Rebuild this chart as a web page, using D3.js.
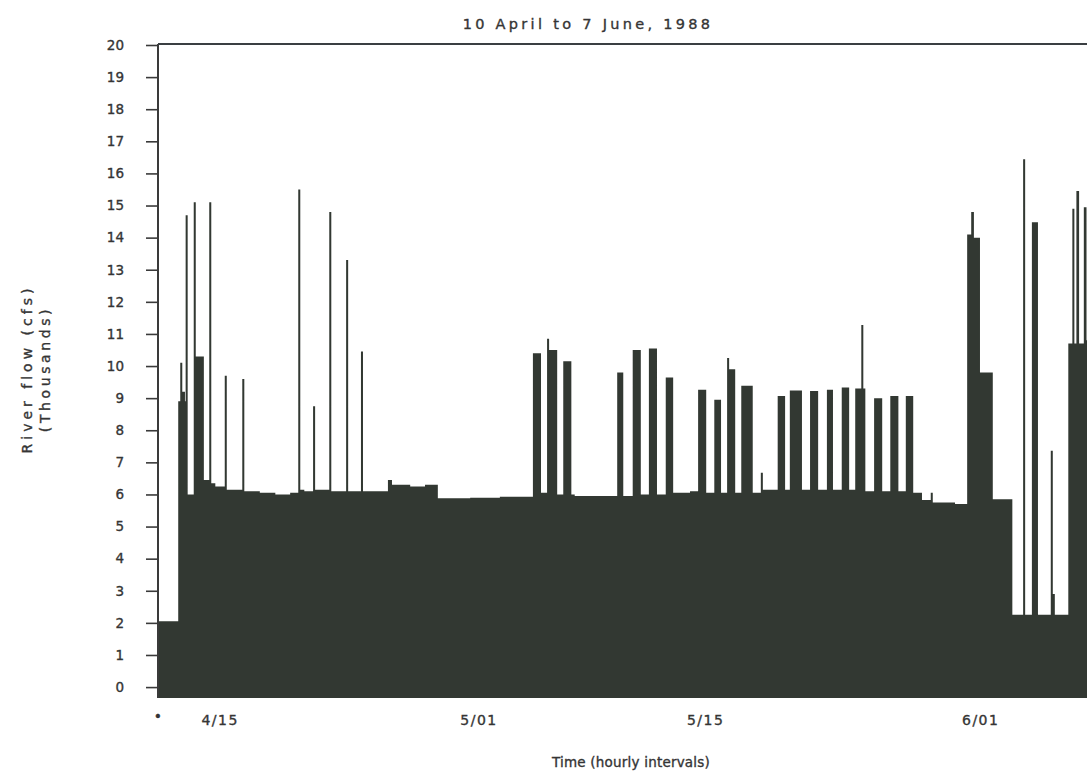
<!DOCTYPE html>
<html>
<head>
<meta charset="utf-8">
<script src="https://cdn.jsdelivr.net/npm/d3@7"></script>
<style>
  html, body { margin: 0; padding: 0; background: #ffffff; }
  svg text { font-family: "DejaVu Sans", "Noto Sans", sans-serif; fill: #353535; stroke: #353535; stroke-width: 0.35px; }
</style>
</head>
<body>
<svg id="chart" width="1087" height="774"></svg>
<script>
// ---- Data (hours since 1988-04-10 00:00; value holds until next hour mark) ----
const hours = [19, 49, 52, 55, 59, 60, 63, 72, 75, 87, 95, 98, 104, 118, 121, 144, 147, 170, 193, 215,
  227, 230, 236, 249, 252, 273, 276, 298, 301, 320, 323, 360, 366, 393, 415, 434, 482, 526,
  575, 587, 596, 599, 611, 620, 632, 637, 700, 709, 723, 735, 747, 759, 772, 783, 808,
  820, 832, 844, 854, 863, 866, 875, 884, 901, 913, 916, 938, 949, 956, 974, 986, 998,
  1011, 1020, 1033, 1044, 1053, 1062, 1065, 1068, 1081, 1093, 1105, 1117, 1128, 1139,
  1152, 1165, 1168, 1201, 1219, 1225, 1229, 1238, 1257, 1286, 1302, 1305, 1315, 1324,
  1343, 1346, 1349, 1369, 1375, 1378, 1381, 1385, 1392, 1396, 1416];
const flow = [2.05, 8.9, 10.1, 9.2, 8.9, 14.7, 6.0, 15.1, 10.3, 6.45, 15.1, 6.35, 6.25, 9.7, 6.15, 9.6, 6.1, 6.05, 6.0, 6.05,
  15.5, 6.15, 6.1, 8.75, 6.15, 14.8, 6.1, 13.3, 6.1, 10.45, 6.1, 6.45, 6.3, 6.25, 6.3, 5.88, 5.9, 5.93,
  10.4, 6.05, 10.85, 10.5, 6.0, 10.15, 6.0, 5.95, 9.8, 5.95, 10.5, 6.0, 10.55, 6.0, 9.64, 6.05, 6.1,
  9.26, 6.05, 8.95, 6.05, 10.25, 9.9, 6.05, 9.39, 6.05, 6.68, 6.15, 9.07, 6.15, 9.24, 6.15, 9.22, 6.15,
  9.26, 6.15, 9.33, 6.15, 9.3, 11.28, 9.3, 6.1, 9.0, 6.1, 9.07, 6.1, 9.07, 6.05,
  5.83, 6.05, 5.75, 5.7, 14.1, 14.8, 14.0, 9.8, 5.85, 2.25, 16.44, 2.25, 14.48, 2.25,
  7.36, 2.9, 2.25, 10.7, 14.9, 10.7, 15.45, 10.7, 14.95, 10.8, 10.8];

const yTickValues = [0,1,2,3,4,5,6,7,8,9,10,11,12,13,14,15,16,17,18,19,20];
const xTickDates = ["1988-04-15", "1988-05-01", "1988-05-15", "1988-06-01"];
const xTickLabels = ["4/15", "5/01", "5/15", "6/01"];
const titleText = "10 April to 7 June, 1988";
const yTitleLines = ["River flow (cfs)", "(Thousands)"];
const xTitleText = "Time (hourly intervals)";

(function draw() {
  const base = Date.UTC(1988, 3, 10, 0);
  const toDate = h => new Date(base + h * 3600e3);

  const pLeft = 158, pRight = 1100, pTop = 45, pBottom = 698;
  const x = d3.scaleUtc()
    .domain([toDate(19), toDate(1416)])
    .range([pLeft, pRight]);
  const y = d3.scaleLinear()
    .domain([-0.34, 20])
    .range([pBottom, pTop]);

  const svg = d3.select("#chart");
  const data = hours.map((h, i) => ({ t: toDate(h), v: flow[i] }));

  const area = d3.area()
    .x(d => x(d.t))
    .y0(pBottom)
    .y1(d => y(d.v))
    .curve(d3.curveStepAfter);

  svg.append("path")
    .datum(data)
    .attr("d", area)
    .attr("fill", "#323832");

  const yAxis = d3.axisLeft(y)
    .tickValues(yTickValues)
    .tickSize(12)
    .tickPadding(22)
    .tickFormat(d3.format("d"));
  const gy = svg.append("g")
    .attr("transform", `translate(${pLeft},0)`)
    .call(yAxis);
  gy.select(".domain").remove();
  gy.selectAll(".tick line").attr("stroke", "#3a3a3a").attr("stroke-width", 1.6);
  gy.selectAll(".tick text")
    .attr("font-size", 13.5)
    .attr("fill", "#353535")
    .style("font-family", "'DejaVu Sans', sans-serif");

  svg.append("line")
    .attr("x1", pLeft).attr("x2", pLeft)
    .attr("y1", y(20) - 1).attr("y2", pBottom)
    .attr("stroke", "#3a3a3a").attr("stroke-width", 2);
  svg.append("line")
    .attr("x1", pLeft).attr("x2", 1087)
    .attr("y1", y(20) - 1).attr("y2", y(20) - 1)
    .attr("stroke", "#3a3f42").attr("stroke-width", 2);

  svg.append("g").selectAll("text.xt")
    .data(xTickDates)
    .join("text")
    .attr("class", "xt")
    .attr("x", d => x(new Date(d + "T00:00:00Z")))
    .attr("dx", -6)
    .attr("y", 725)
    .attr("text-anchor", "middle")
    .attr("font-size", 14)
    .attr("letter-spacing", "1.5px")
    .text((d, i) => xTickLabels[i]);

  svg.append("text")
    .attr("x", pLeft).attr("y", 721)
    .attr("text-anchor", "middle")
    .attr("font-size", 14)
    .text("•");

  svg.append("text")
    .attr("x", 588).attr("y", 29)
    .attr("text-anchor", "middle")
    .attr("font-size", 14.5)
    .attr("letter-spacing", "3.3px")
    .text(titleText);

  svg.append("text")
    .attr("x", 631).attr("y", 767)
    .attr("text-anchor", "middle")
    .attr("font-size", 13.5)
    .attr("letter-spacing", "0.2px")
    .text(xTitleText);

  const yt = svg.append("g").attr("transform", "translate(0,369) rotate(-90)");
  yt.selectAll("text")
    .data(yTitleLines)
    .join("text")
    .attr("x", 0)
    .attr("y", (d, i) => 32 + i * 18)
    .attr("text-anchor", "middle")
    .attr("font-size", 14)
    .attr("letter-spacing", (d, i) => i === 0 ? "4px" : "3.6px")
    .text(d => d);
})();
</script>
</body>
</html>
